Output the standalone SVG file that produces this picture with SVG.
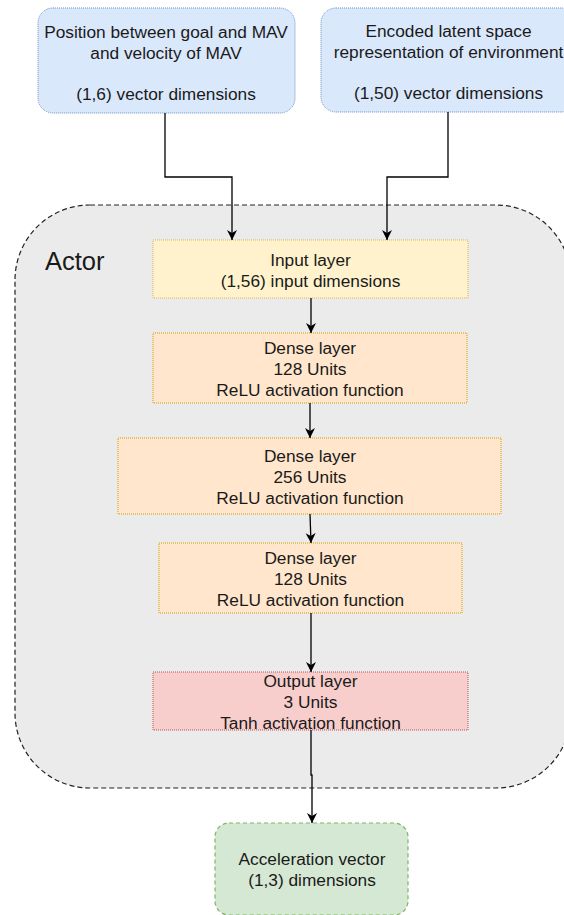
<svg xmlns="http://www.w3.org/2000/svg" width="564" height="915" viewBox="0 0 564 915">
  <style>
    text { font-family: "Liberation Sans", Arial, sans-serif; font-size: 17.3px; fill: #1a1a1a; text-anchor: middle; }
    .actor-label { font-size: 25.5px; text-anchor: start; }
    .input-box { fill: #dae8fc; stroke: #6c8ebf; stroke-width: 1; stroke-dasharray: 1 1; }
    .in-layer { fill: #fff2cc; stroke: #d6b656; stroke-width: 1; stroke-dasharray: 1 1; }
    .dense { fill: #ffe6cc; stroke: #d79b00; stroke-width: 1; stroke-dasharray: 1 1; }
    .out-layer { fill: #f8cecc; stroke: #b85450; stroke-width: 1; stroke-dasharray: 1 1; }
    .result { fill: #d5e8d4; stroke: #82b366; stroke-width: 1.2; stroke-dasharray: 4 3; }
    .container { fill: #ebebeb; stroke: #222; stroke-width: 1.2; stroke-dasharray: 5 3; }
    .edge { fill: none; stroke: #000; stroke-width: 1.3; marker-end: url(#arrow); }
  </style>
  <defs>
    <marker id="arrow" markerUnits="userSpaceOnUse" markerWidth="12" markerHeight="12" refX="10" refY="5" orient="auto">
      <path d="M0,0 L10,5 L0,10 L3,5 z" fill="#000"/>
    </marker>
  </defs>

  <!-- Actor container -->
  <g id="actor">
    <rect class="container" x="15" y="205" width="556" height="583" rx="75" ry="75"/>
    <text class="actor-label" x="45" y="270">Actor</text>
  </g>

  <!-- Inputs -->
  <g id="goal-input">
    <rect class="input-box" x="38" y="8" width="257" height="105" rx="15" ry="15"/>
    <text x="166" y="37.5">Position between goal and MAV</text>
    <text x="166" y="58.5">and velocity of MAV</text>
    <text x="166" y="99.5">(1,6) vector dimensions</text>
  </g>
  <g id="latent-input">
    <rect class="input-box" x="321" y="8" width="255" height="104" rx="15" ry="15"/>
    <text x="448.5" y="37">Encoded latent space</text>
    <text x="448.5" y="58">representation of environment</text>
    <text x="448.5" y="98.5">(1,50) vector dimensions</text>
  </g>

  <!-- Network layers -->
  <g id="input-layer">
    <rect class="in-layer" x="153" y="240" width="315" height="58"/>
    <text x="310.5" y="266">Input layer</text>
    <text x="310.5" y="287">(1,56) input dimensions</text>
  </g>
  <g id="dense-1">
    <rect class="dense" x="153" y="333" width="314" height="70"/>
    <text x="310" y="354">Dense layer</text>
    <text x="310" y="375">128 Units</text>
    <text x="310" y="396">ReLU activation function</text>
  </g>
  <g id="dense-2">
    <rect class="dense" x="118" y="438" width="383" height="76"/>
    <text x="310" y="462">Dense layer</text>
    <text x="310" y="483">256 Units</text>
    <text x="310" y="504">ReLU activation function</text>
  </g>
  <g id="dense-3">
    <rect class="dense" x="159" y="543" width="303" height="70"/>
    <text x="310.5" y="564">Dense layer</text>
    <text x="310.5" y="585">128 Units</text>
    <text x="310.5" y="606">ReLU activation function</text>
  </g>
  <g id="output-layer">
    <rect class="out-layer" x="153" y="672" width="315" height="58"/>
    <text x="310.5" y="686.5">Output layer</text>
    <text x="310.5" y="707.5">3 Units</text>
    <text x="310.5" y="728.5">Tanh activation function</text>
  </g>

  <!-- Result -->
  <g id="acceleration">
    <rect class="result" x="215" y="823" width="193" height="92" rx="14" ry="14"/>
    <text x="312" y="865">Acceleration vector</text>
    <text x="312" y="886">(1,3) dimensions</text>
  </g>

  <!-- Connectors -->
  <g id="connectors">
    <path class="edge" d="M165,113 V177 H232 V240"/>
    <path class="edge" d="M448,112 V177 H387 V240"/>
    <path class="edge" d="M311,298 V333"/>
    <path class="edge" d="M310,403 V438"/>
    <path class="edge" d="M310,514 L311,543"/>
    <path class="edge" d="M311,613 V672"/>
    <path class="edge" d="M311,730 V775 H312 V823"/>
  </g>
</svg>
